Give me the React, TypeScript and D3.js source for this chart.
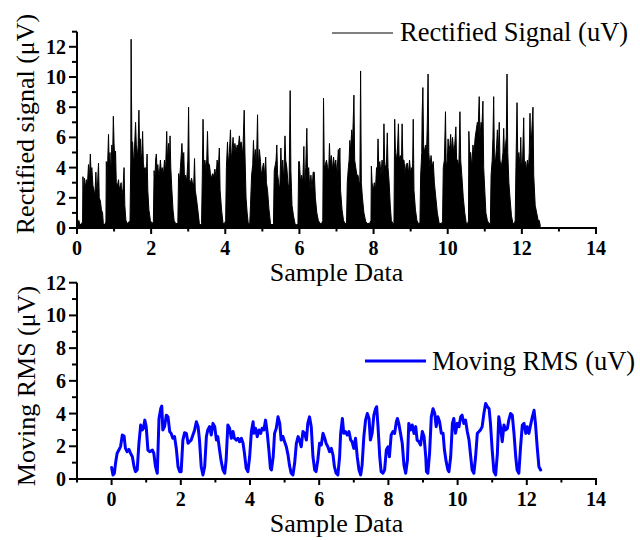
import React from "react";
import * as d3 from "d3";

// ---------- DATA ----------
const rectifiedSignal: [number, number][] = [
  [0,0.2],[0.01,0.9],[0.02,0.3],[0.05,0.5],[0.08,0.2],[0.12,0.3],
  [0.15,0.4],[0.16,3.4],[0.18,2.2],[0.2,3.3],[0.22,2.6],[0.25,3.2],[0.28,2.8],[0.31,4.2],[0.33,3.0],[0.36,4.9],[0.38,3.6],[0.40,4.0],[0.43,2.8],[0.46,2.5],[0.48,2.0],[0.51,3.7],[0.53,2.3],[0.55,2.7],[0.58,4.3],[0.60,2.0],[0.63,1.8],[0.66,1.2],[0.69,1.0],[0.71,0.3],[0.74,0.2],
  [0.78,0.4],[0.79,4.4],[0.81,3.5],[0.83,4.5],[0.85,6.2],[0.87,4.0],[0.89,5.0],[0.91,3.6],[0.94,5.5],[0.96,4.5],[0.98,7.4],[1.00,5.6],[1.02,4.5],[1.04,5.1],[1.06,3.0],[1.09,2.8],[1.12,3.2],[1.14,2.6],[1.17,2.8],[1.19,3.0],[1.21,2.2],[1.24,2.6],[1.27,4.0],[1.29,1.5],[1.32,0.5],[1.36,0.3],[1.40,0.4],
  [1.43,0.5],[1.45,4.5],[1.46,12.5],[1.47,8.8],[1.48,5.7],[1.50,5.7],[1.52,4.6],[1.54,4.6],[1.56,5.8],[1.58,7.0],[1.60,5.5],[1.62,5.2],[1.64,4.5],[1.67,7.8],[1.69,5.0],[1.71,5.9],[1.73,4.3],[1.75,5.0],[1.77,6.4],[1.79,4.3],[1.81,3.9],[1.84,4.0],[1.87,3.5],[1.89,4.9],[1.91,2.5],[1.94,1.2],[1.98,0.5],[2.02,0.3],
  [2.06,0.4],[2.08,3.8],[2.10,3.0],[2.12,4.5],[2.14,4.9],[2.16,3.8],[2.18,4.2],[2.20,3.6],[2.22,3.5],[2.25,4.5],[2.27,3.8],[2.30,4.0],[2.33,3.5],[2.36,4.5],[2.39,3.8],[2.42,6.4],[2.44,4.5],[2.47,5.6],[2.49,4.2],[2.51,6.1],[2.53,4.0],[2.56,2.5],[2.59,1.2],[2.62,0.5],[2.66,0.3],
  [2.72,0.3],[2.74,3.6],[2.76,3.0],[2.79,4.0],[2.83,5.6],[2.85,4.5],[2.88,5.0],[2.90,3.2],[2.93,3.5],[2.96,3.1],[2.99,4.5],[3.01,8.0],[3.03,3.2],[3.06,3.0],[3.09,3.3],[3.12,2.9],[3.15,3.0],[3.17,4.6],[3.19,2.5],[3.22,2.0],[3.26,1.2],[3.30,0.3],[3.34,0.2],
  [3.36,0.3],[3.38,3.5],[3.40,7.2],[3.42,4.0],[3.45,4.5],[3.48,3.8],[3.50,4.5],[3.52,6.4],[3.54,4.3],[3.57,4.2],[3.60,3.6],[3.63,3.3],[3.66,3.6],[3.69,3.4],[3.72,3.9],[3.75,3.3],[3.78,4.5],[3.81,3.8],[3.84,5.3],[3.86,2.5],[3.90,1.2],[3.94,0.3],[3.98,0.3],
  [4.01,0.5],[4.03,4.0],[4.06,5.7],[4.08,4.2],[4.11,5.0],[4.14,6.5],[4.16,4.5],[4.18,5.0],[4.21,6.0],[4.23,5.0],[4.26,5.6],[4.29,5.0],[4.32,5.5],[4.35,5.3],[4.38,6.1],[4.40,5.5],[4.43,5.7],[4.46,4.8],[4.48,5.5],[4.51,7.8],[4.53,5.0],[4.56,2.0],[4.59,1.0],[4.62,0.3],
  [4.66,0.3],[4.68,1.5],[4.71,3.5],[4.74,4.2],[4.76,5.8],[4.78,4.5],[4.81,5.2],[4.84,4.0],[4.87,7.5],[4.89,4.0],[4.92,5.2],[4.95,4.4],[4.97,3.5],[5.00,3.9],[5.03,4.3],[5.06,3.5],[5.09,4.7],[5.11,3.0],[5.14,2.5],[5.18,1.2],[5.22,0.3],[5.26,0.2],
  [5.30,0.3],[5.32,3.8],[5.35,4.2],[5.37,4.5],[5.39,5.5],[5.41,3.6],[5.44,3.0],[5.47,2.5],[5.50,5.3],[5.52,3.5],[5.55,4.5],[5.58,3.0],[5.61,6.1],[5.63,4.5],[5.66,4.0],[5.69,3.0],[5.72,2.5],[5.75,9.1],[5.77,3.8],[5.80,1.5],[5.84,0.8],[5.88,0.3],[5.92,0.2],
  [5.96,0.3],[5.98,4.4],[6.00,4.4],[6.03,3.0],[6.06,3.5],[6.09,3.0],[6.12,5.4],[6.14,2.5],[6.17,4.0],[6.20,6.6],[6.22,3.5],[6.25,4.0],[6.28,2.5],[6.31,3.5],[6.34,2.5],[6.37,3.7],[6.40,3.7],[6.43,2.0],[6.47,1.0],[6.51,0.5],[6.56,0.3],[6.60,0.3],
  [6.63,0.5],[6.65,8.6],[6.67,4.0],[6.70,4.2],[6.73,4.5],[6.76,4.0],[6.79,3.8],[6.81,5.6],[6.83,4.2],[6.86,4.8],[6.89,3.8],[6.92,4.7],[6.95,4.0],[6.98,4.5],[7.01,3.5],[7.05,5.2],[7.07,3.5],[7.09,5.3],[7.11,2.5],[7.15,1.2],[7.19,0.5],[7.23,0.3],
  [7.27,0.3],[7.29,3.0],[7.32,4.0],[7.34,4.5],[7.36,5.8],[7.38,5.0],[7.41,6.5],[7.43,5.5],[7.45,7.0],[7.47,8.8],[7.49,4.5],[7.52,4.0],[7.55,3.5],[7.58,3.5],[7.61,3.0],[7.63,3.0],[7.65,10.4],[7.67,3.0],[7.70,2.0],[7.74,1.0],[7.79,0.4],[7.84,0.3],[7.89,0.3],
  [7.93,0.5],[7.94,4.1],[7.96,3.0],[7.99,2.5],[8.02,3.0],[8.05,2.5],[8.08,4.0],[8.10,3.5],[8.12,5.9],[8.14,4.0],[8.17,4.4],[8.20,3.5],[8.23,4.5],[8.26,3.5],[8.28,6.9],[8.30,4.2],[8.33,4.0],[8.35,4.5],[8.37,6.3],[8.39,4.0],[8.42,3.0],[8.45,1.5],[8.48,0.5],[8.52,0.3],
  [8.55,0.3],[8.57,7.2],[8.59,5.0],[8.62,4.5],[8.65,5.5],[8.67,6.9],[8.69,4.5],[8.72,4.8],[8.75,4.2],[8.77,6.9],[8.79,4.5],[8.82,4.5],[8.85,3.6],[8.88,4.2],[8.91,4.3],[8.94,3.6],[8.97,4.5],[9.00,3.6],[9.03,4.0],[9.05,3.5],[9.07,7.2],[9.09,2.5],[9.13,1.2],[9.17,0.5],[9.21,0.3],
  [9.25,0.3],[9.27,3.5],[9.30,5.0],[9.31,7.5],[9.33,9.3],[9.35,5.5],[9.38,5.0],[9.41,5.5],[9.43,5.0],[9.45,7.0],[9.47,10.2],[9.49,5.0],[9.52,4.0],[9.55,4.8],[9.58,4.0],[9.61,4.4],[9.64,3.0],[9.68,2.0],[9.72,1.0],[9.77,0.3],[9.82,0.3],
  [9.86,0.4],[9.88,4.0],[9.91,4.5],[9.94,7.7],[9.96,4.0],[9.99,4.5],[10.01,5.9],[10.03,5.0],[10.06,5.5],[10.08,6.2],[10.10,5.0],[10.13,6.0],[10.16,5.0],[10.19,5.5],[10.22,6.7],[10.24,4.5],[10.27,4.5],[10.30,4.0],[10.33,7.7],[10.35,4.5],[10.38,3.5],[10.42,2.0],[10.46,1.0],[10.50,0.3],[10.54,0.3],
  [10.56,0.5],[10.57,6.4],[10.59,5.0],[10.62,5.0],[10.65,4.0],[10.68,5.5],[10.71,5.0],[10.74,6.0],[10.77,6.5],[10.80,7.0],[10.82,6.5],[10.85,8.7],[10.87,6.0],[10.90,7.0],[10.92,6.5],[10.95,8.4],[10.97,4.0],[11.00,2.5],[11.03,1.0],[11.07,0.5],[11.11,0.3],
  [11.15,0.3],[11.17,3.5],[11.20,4.5],[11.22,6.0],[11.24,8.7],[11.26,4.5],[11.29,4.5],[11.32,5.5],[11.34,6.5],[11.36,4.5],[11.39,7.0],[11.41,4.5],[11.44,4.0],[11.47,4.5],[11.49,5.0],[11.51,6.6],[11.53,5.0],[11.56,5.5],[11.58,6.0],[11.60,10.2],[11.62,5.0],[11.65,3.0],[11.68,2.0],[11.72,0.8],[11.76,0.3],[11.80,0.3],
  [11.82,0.5],[11.84,4.0],[11.87,8.3],[11.89,4.6],[11.92,5.0],[11.95,4.0],[11.97,6.0],[11.99,4.0],[12.02,4.5],[12.05,7.3],[12.07,4.0],[12.10,4.4],[12.12,3.8],[12.15,4.5],[12.18,4.0],[12.20,5.0],[12.22,7.6],[12.24,5.0],[12.27,6.5],[12.30,8.0],[12.32,3.5],[12.36,1.5],[12.40,1.0],[12.44,0.5],[12.47,0.5],[12.50,0.1],
];

const movingRms: [number, number][] = [
  [0.0,0.7],[0.04,0.25],[0.08,0.35],[0.12,1.06],[0.16,1.57],[0.21,1.77],[0.26,2.0],[0.31,2.69],[0.36,2.63],[0.40,1.87],[0.45,1.67],[0.50,1.81],[0.55,1.57],[0.60,1.36],[0.65,0.75],[0.69,0.45],[0.74,0.55],
  [0.79,2.18],[0.84,3.3],[0.89,3.0],[0.92,3.1],[0.96,3.6],[1.00,3.2],[1.05,1.77],[1.10,1.67],[1.18,1.77],[1.22,1.57],[1.27,0.75],[1.32,0.35],
  [1.37,3.7],[1.42,4.3],[1.45,4.46],[1.48,3.0],[1.53,3.2],[1.58,3.9],[1.63,3.8],[1.68,2.9],[1.72,2.79],[1.77,2.49],[1.82,2.59],[1.87,1.87],[1.92,0.75],[1.97,0.45],[2.01,0.45],
  [2.06,2.38],[2.11,2.83],[2.16,2.79],[2.21,2.18],[2.25,2.28],[2.30,2.38],[2.35,2.69],[2.40,3.0],[2.45,3.5],[2.50,3.2],[2.54,2.38],[2.59,0.75],[2.64,0.25],[2.69,0.75],
  [2.74,2.6],[2.78,3.0],[2.83,3.2],[2.88,2.69],[2.93,3.4],[2.98,3.2],[3.03,2.38],[3.07,2.59],[3.12,1.77],[3.17,1.06],[3.22,0.55],[3.27,0.35],[3.31,1.16],
  [3.36,3.3],[3.41,3.1],[3.46,2.49],[3.51,2.9],[3.55,2.49],[3.60,2.38],[3.65,2.49],[3.70,2.28],[3.75,2.49],[3.80,2.18],[3.84,1.57],[3.89,0.65],[3.94,0.45],[3.99,1.36],
  [4.04,2.9],[4.09,3.5],[4.11,2.79],[4.16,3.1],[4.21,2.59],[4.26,3.0],[4.31,2.79],[4.35,3.1],[4.40,3.0],[4.45,3.6],[4.50,2.79],[4.55,1.67],[4.59,0.65],[4.62,0.55],[4.67,1.36],
  [4.71,2.79],[4.76,3.1],[4.81,3.8],[4.86,3.4],[4.90,2.38],[4.95,2.6],[5.00,2.28],[5.05,1.97],[5.10,1.46],[5.14,0.85],[5.19,0.35],[5.24,0.25],[5.29,0.96],
  [5.34,2.18],[5.39,2.59],[5.43,2.38],[5.48,1.97],[5.53,2.9],[5.58,2.79],[5.63,2.38],[5.67,3.4],[5.72,3.8],[5.77,3.2],[5.82,1.36],[5.87,0.55],[5.91,0.45],[5.96,1.16],
  [6.01,2.18],[6.06,2.08],[6.11,2.79],[6.16,2.49],[6.20,2.18],[6.25,1.97],[6.30,1.67],[6.35,1.87],[6.40,1.46],[6.44,0.75],[6.49,0.35],[6.54,0.25],[6.59,1.36],
  [6.62,2.79],[6.67,3.7],[6.71,2.79],[6.76,2.9],[6.81,2.69],[6.86,2.9],[6.91,2.38],[6.95,2.28],[7.00,1.87],[7.05,2.49],[7.10,1.36],[7.15,0.55],[7.20,0.25],[7.24,0.85],
  [7.29,2.59],[7.34,3.6],[7.39,4.0],[7.44,3.7],[7.48,2.38],[7.53,2.79],[7.58,3.9],[7.63,4.3],[7.66,4.42],[7.70,3.2],[7.75,1.36],[7.79,0.45],[7.84,0.35],[7.89,0.55],
  [7.94,1.77],[7.99,1.97],[8.03,1.36],[8.08,2.69],[8.13,2.9],[8.18,2.79],[8.23,3.5],[8.26,3.7],[8.30,3.4],[8.35,2.79],[8.40,2.18],[8.45,0.85],[8.50,0.35],[8.55,1.16],
  [8.59,3.4],[8.64,3.0],[8.69,3.3],[8.74,2.79],[8.79,3.2],[8.83,2.38],[8.88,2.28],[8.93,2.08],[8.98,2.9],[9.03,2.6],[9.08,1.36],[9.10,0.45],[9.14,0.35],[9.19,1.57],
  [9.24,3.8],[9.29,4.3],[9.34,4.0],[9.38,3.2],[9.43,3.8],[9.48,3.5],[9.53,2.79],[9.58,2.79],[9.62,1.77],[9.67,1.06],[9.72,0.55],[9.75,0.45],[9.80,1.36],
  [9.85,3.4],[9.89,3.7],[9.94,2.79],[9.99,3.4],[10.04,3.2],[10.09,3.8],[10.13,3.9],[10.18,3.4],[10.23,3.6],[10.28,2.9],[10.33,2.38],[10.38,1.36],[10.42,0.55],[10.47,0.35],[10.52,1.36],
  [10.57,2.79],[10.62,2.9],[10.66,3.0],[10.71,3.2],[10.76,4.0],[10.81,4.62],[10.86,4.42],[10.91,4.3],[10.95,3.4],[11.00,1.77],[11.05,0.45],[11.10,0.25],[11.15,1.57],
  [11.19,3.8],[11.24,3.2],[11.29,2.28],[11.34,3.3],[11.39,3.0],[11.44,3.1],[11.48,3.6],[11.53,4.0],[11.58,3.9],[11.63,2.79],[11.68,1.36],[11.72,0.55],[11.77,0.35],
  [11.82,1.97],[11.87,3.3],[11.92,3.4],[11.97,2.79],[12.01,3.2],[12.06,2.79],[12.11,3.3],[12.16,3.8],[12.21,4.2],[12.25,3.4],[12.30,1.97],[12.35,0.75],[12.40,0.55],
];

const topXMajor = [0, 2, 4, 6, 8, 10, 12, 14];
const topXMinor = [1, 3, 5, 7, 9, 11, 13];
const topYMajor = [0, 2, 4, 6, 8, 10, 12];
const topYMinor = [1, 3, 5, 7, 9, 11, 13];
const botXMajor = [0, 2, 4, 6, 8, 10, 12, 14];
const botXMinor = [-1, 1, 3, 5, 7, 9, 11, 13];
const botYMajor = [0, 2, 4, 6, 8, 10, 12];
const botYMinor = [1, 3, 5, 7, 9, 11];

const xTitle = "Sample Data";
const topYTitle = "Rectified signal (\u03bcV)";
const botYTitle = "Moving RMS (\u03bcV)";
const topLegend = "Rectified Signal (uV)";
const botLegend = "Moving RMS (uV)";

// ---------- LAYOUT ----------
const FONT = "'Liberation Serif','Times New Roman',serif";
const LEFT = 77;
const RIGHT = 596;

type Scale = d3.ScaleLinear<number, number>;

function XAxis({ x, y0, major, minor }: { x: Scale; y0: number; major: number[]; minor: number[] }) {
  const [a, b] = x.range();
  return (
    <g>
      <line x1={a - 1} x2={b + 1} y1={y0} y2={y0} stroke="#000" strokeWidth={2} />
      {major.map((t) => (
        <g key={"M" + t}>
          <line x1={x(t)} x2={x(t)} y1={y0} y2={y0 + 6} stroke="#000" strokeWidth={2} />
          <text x={x(t)} y={y0 + 27} textAnchor="middle" fontFamily={FONT} fontWeight="bold" fontSize={20}>
            {t}
          </text>
        </g>
      ))}
      {minor.map((t) => (
        <line key={"m" + t} x1={x(t)} x2={x(t)} y1={y0} y2={y0 + 3.5} stroke="#000" strokeWidth={2} />
      ))}
    </g>
  );
}

function YAxis({ y, x0, major, minor }: { y: Scale; x0: number; major: number[]; minor: number[] }) {
  const [a, b] = y.range();
  return (
    <g>
      <line x1={x0} x2={x0} y1={a + 1} y2={b} stroke="#000" strokeWidth={2} />
      {major.map((t) => (
        <g key={"M" + t}>
          <line x1={x0 - 8} x2={x0} y1={y(t)} y2={y(t)} stroke="#000" strokeWidth={2} />
          <text x={x0 - 11} y={y(t) + 7} textAnchor="end" fontFamily={FONT} fontWeight="bold" fontSize={20}>
            {t}
          </text>
        </g>
      ))}
      {minor.map((t) => (
        <line key={"m" + t} x1={x0 - 5} x2={x0} y1={y(t)} y2={y(t)} stroke="#000" strokeWidth={2} />
      ))}
    </g>
  );
}

export default function App() {
  const xTop = d3.scaleLinear().domain([0, 14]).range([LEFT, RIGHT]);
  const yTop = d3.scaleLinear().domain([0, 13]).range([228, 31.7]);
  const xBot = d3.scaleLinear().domain([-1, 14]).range([LEFT, RIGHT]);
  const yBot = d3.scaleLinear().domain([0, 12]).range([479, 282.7]);

  const area = d3
    .area<[number, number]>()
    .x((d) => xTop(d[0]))
    .y0(yTop(0))
    .y1((d) => yTop(d[1]));
  const topLine = d3
    .line<[number, number]>()
    .x((d) => xTop(d[0]))
    .y((d) => yTop(d[1]));
  const rmsLine = d3
    .line<[number, number]>()
    .x((d) => xBot(d[0]))
    .y((d) => yBot(d[1]));

  return (
    <svg
      width={640}
      height={540}
      viewBox="0 0 640 540"
      style={{ position: "absolute", left: 0, top: 0, background: "#fff" }}
    >
      {/* top panel */}
      <path d={area(rectifiedSignal) || ""} fill="#000" />
      <path d={topLine(rectifiedSignal) || ""} fill="none" stroke="#000" strokeWidth={1} />
      <XAxis x={xTop} y0={yTop(0)} major={topXMajor} minor={topXMinor} />
      <YAxis y={yTop} x0={LEFT} major={topYMajor} minor={topYMinor} />
      <text x={(LEFT + RIGHT) / 2} y={281} textAnchor="middle" fontFamily={FONT} fontSize={26}>
        {xTitle}
      </text>
      <text
        transform={`translate(34,124) rotate(-90)`}
        textAnchor="middle"
        fontFamily={FONT}
        fontSize={26}
      >
        {topYTitle}
      </text>
      <line x1={332} x2={393} y1={33} y2={33} stroke="#000" strokeWidth={1} />
      <text x={400} y={41} fontFamily={FONT} fontSize={26.5}>
        {topLegend}
      </text>

      {/* bottom panel */}
      <path
        d={rmsLine(movingRms) || ""}
        fill="none"
        stroke="#0000ff"
        strokeWidth={3}
        strokeLinejoin="round"
        strokeLinecap="round"
      />
      <XAxis x={xBot} y0={yBot(0)} major={botXMajor} minor={botXMinor} />
      <YAxis y={yBot} x0={LEFT} major={botYMajor} minor={botYMinor} />
      <text x={(LEFT + RIGHT) / 2} y={532} textAnchor="middle" fontFamily={FONT} fontSize={26}>
        {xTitle}
      </text>
      <text
        transform={`translate(35,386) rotate(-90)`}
        textAnchor="middle"
        fontFamily={FONT}
        fontSize={26}
      >
        {botYTitle}
      </text>
      <line x1={365} x2={426} y1={361} y2={361} stroke="#0000ff" strokeWidth={3} />
      <text x={432} y={370} fontFamily={FONT} fontSize={26.5}>
        {botLegend}
      </text>
    </svg>
  );
}
